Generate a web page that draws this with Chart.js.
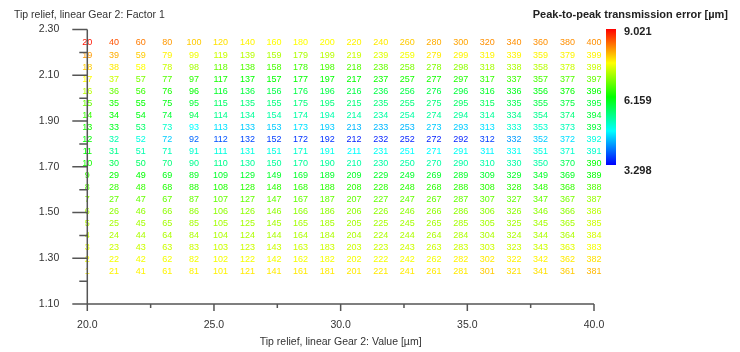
<!DOCTYPE html>
<html>
<head>
<meta charset="utf-8">
<script src="https://cdn.jsdelivr.net/npm/chart.js@4.4.1/dist/chart.umd.min.js"></script>
<style>
  html, body { margin: 0; padding: 0; background: #fff; }
</style>
</head>
<body>
<canvas id="chart" width="740" height="352"></canvas>
<script>
// tip relief value (x) of each column and factor (y) of each row
let xValues = [20.00, 21.05, 22.11, 23.16, 24.21, 25.26, 26.32, 27.37, 28.42, 29.47,
               30.53, 31.58, 32.63, 33.68, 34.74, 35.79, 36.84, 37.89, 38.95, 40.00]
let yValues = [2.3000, 2.2474, 2.1947, 2.1421, 2.0895, 2.0368, 1.9842, 1.9316, 1.8789, 1.8263,
               1.7737, 1.7211, 1.6684, 1.6158, 1.5632, 1.5105, 1.4579, 1.4053, 1.3526, 1.3000]

// peak-to-peak transmission error [µm], one row per y value (top row first)
let errorRows = [
  [8.91, 8.56, 8.33, 8.16, 7.88, 7.76, 7.65, 7.59, 7.59, 7.59, 7.65, 7.70, 7.88, 8.05, 8.10, 8.22, 8.22, 8.22, 8.22, 8.22],
  [8.16, 8.05, 7.88, 7.65, 7.53, 7.30, 7.19, 7.13, 7.13, 7.19, 7.30, 7.42, 7.53, 7.70, 7.65, 7.65, 7.65, 7.65, 7.65, 7.65],
  [7.88, 7.70, 7.59, 7.30, 7.08, 6.73, 6.62, 6.56, 6.50, 6.56, 6.62, 6.73, 6.85, 6.90, 6.96, 7.08, 7.13, 7.19, 7.30, 7.30],
  [7.59, 7.30, 6.85, 6.62, 6.39, 6.27, 6.16, 6.16, 6.16, 6.16, 6.16, 6.22, 6.27, 6.27, 6.33, 6.45, 6.50, 6.56, 6.62, 6.73],
  [7.19, 6.73, 6.45, 6.27, 6.16, 5.93, 5.82, 5.76, 5.76, 5.76, 5.76, 5.76, 5.76, 5.76, 5.82, 5.93, 5.99, 6.05, 6.16, 6.16],
  [6.73, 6.27, 6.16, 6.05, 5.87, 5.59, 5.47, 5.47, 5.47, 5.47, 5.47, 5.47, 5.47, 5.47, 5.59, 5.64, 5.70, 5.76, 5.82, 5.87],
  [6.45, 6.16, 6.05, 5.87, 5.70, 5.36, 5.30, 5.24, 5.24, 5.19, 5.24, 5.24, 5.24, 5.30, 5.30, 5.30, 5.36, 5.36, 5.47, 5.87],
  [6.27, 5.99, 5.59, 5.01, 4.73, 4.56, 4.44, 4.44, 4.56, 4.44, 4.33, 4.33, 4.33, 4.44, 4.44, 4.56, 5.01, 5.01, 5.13, 5.87],
  [6.16, 5.19, 4.90, 4.44, 3.87, 3.76, 3.70, 3.64, 3.58, 3.58, 3.47, 3.47, 3.47, 3.47, 3.47, 3.64, 4.16, 4.44, 4.56, 4.90],
  [6.16, 5.36, 5.19, 5.13, 5.01, 4.90, 4.90, 4.90, 5.01, 4.84, 4.73, 4.79, 4.73, 4.73, 4.79, 4.67, 4.79, 4.90, 5.01, 5.01],
  [6.27, 5.70, 5.59, 5.47, 5.36, 5.36, 5.30, 5.30, 5.30, 5.30, 5.24, 5.24, 5.24, 5.24, 5.24, 5.24, 5.24, 5.24, 5.70, 6.16],
  [6.45, 6.16, 6.16, 6.05, 5.99, 5.93, 5.93, 5.93, 5.93, 5.93, 5.93, 5.93, 5.93, 5.93, 5.93, 5.93, 5.93, 5.93, 5.99, 6.16],
  [6.62, 6.45, 6.45, 6.33, 6.33, 6.33, 6.39, 6.39, 6.39, 6.39, 6.39, 6.39, 6.39, 6.39, 6.39, 6.39, 6.39, 6.39, 6.45, 6.62],
  [6.90, 6.73, 6.73, 6.73, 6.73, 6.73, 6.73, 6.73, 6.73, 6.73, 6.73, 6.73, 6.73, 6.73, 6.73, 6.73, 6.73, 6.73, 6.85, 7.02],
  [7.08, 6.96, 6.96, 6.96, 6.96, 6.96, 6.96, 6.96, 6.96, 6.96, 6.96, 6.96, 6.96, 6.96, 6.96, 6.96, 6.96, 6.96, 6.96, 7.19],
  [7.19, 7.08, 7.08, 7.08, 7.08, 7.08, 7.08, 7.08, 7.08, 7.08, 7.08, 7.08, 7.08, 7.08, 7.08, 7.08, 7.08, 7.08, 7.08, 7.30],
  [7.25, 7.13, 7.13, 7.13, 7.13, 7.13, 7.13, 7.13, 7.13, 7.13, 7.13, 7.13, 7.13, 7.13, 7.13, 7.13, 7.13, 7.13, 7.13, 7.36],
  [7.42, 7.30, 7.30, 7.30, 7.30, 7.30, 7.30, 7.30, 7.30, 7.30, 7.30, 7.30, 7.30, 7.30, 7.30, 7.30, 7.30, 7.30, 7.42, 7.53],
  [7.53, 7.53, 7.53, 7.53, 7.53, 7.53, 7.53, 7.53, 7.53, 7.53, 7.53, 7.53, 7.53, 7.53, 7.65, 7.70, 7.65, 7.65, 7.70, 7.76],
  [7.65, 7.65, 7.65, 7.65, 7.65, 7.65, 7.70, 7.70, 7.70, 7.70, 7.70, 7.70, 7.70, 7.70, 7.70, 7.88, 7.76, 7.76, 7.88, 7.99],
]

// axis ticks and colour bar range
let xTicks = [20, 25, 30, 35, 40]
let yTicks = [1.10, 1.30, 1.50, 1.70, 1.90, 2.10, 2.30]
let errorMin = 3.298
let errorMid = 6.159
let errorMax = 9.021

let axisColor = '#555'
let textColor = '#333'

// blue - cyan - green - yellow - red, like the colour bar
function errorColor(v) {
    let t = Math.min(1, Math.max(0, (v - errorMin) / (errorMax - errorMin)))
    let r, g, b
    if (t < 0.25) { r = 0; g = 255 * t / 0.25; b = 255 }
    else if (t < 0.5) { r = 0; g = 255; b = 255 * (1 - (t - 0.25) / 0.25) }
    else if (t < 0.75) { r = 255 * (t - 0.5) / 0.25; g = 255; b = 0 }
    else { r = 255; g = 255 * (1 - (t - 0.75) / 0.25); b = 0 }
    return `rgb(${Math.round(r)},${Math.round(g)},${Math.round(b)})`
}

// build one point per cell, the label is the design point number
let points = []
yValues.forEach(function(y, r) {
    xValues.forEach(function(x, c) {
        points.push({x: x, y: y, v: errorRows[r][c], id: 20 * c + 20 - r})
    })
})

// write the point numbers in their colour
let cellLabels = {
    id: 'cellLabels',
    afterDatasetsDraw(chart) {
        let ctx = chart.ctx
        let meta = chart.getDatasetMeta(0)
        ctx.save()
        ctx.font = '9px "Liberation Sans"'
        ctx.textAlign = 'center'
        ctx.textBaseline = 'middle'
        meta.data.forEach(function(el, i) {
            let p = chart.data.datasets[0].data[i]
            ctx.fillStyle = errorColor(p.v)
            ctx.fillText(String(p.id), el.x, el.y + 13.5)
        })
        ctx.restore()
    }
}

// axis lines with major + minor ticks, titles and the colour bar
let decorations = {
    id: 'decorations',
    afterDraw(chart) {
        let ctx = chart.ctx
        let xs = chart.scales.x, ys = chart.scales.y
        let left = xs.getPixelForValue(20), right = xs.getPixelForValue(40)
        let top = ys.getPixelForValue(2.3), bottom = ys.getPixelForValue(1.1)
        ctx.save()
        ctx.strokeStyle = axisColor
        ctx.lineWidth = 1.5
        ctx.beginPath()
        ctx.moveTo(left, top)
        ctx.lineTo(left, bottom)
        ctx.lineTo(right, bottom)
        for (let v = 1.1; v <= 2.301; v += 0.1) {
            let y = ys.getPixelForValue(v)
            let major = Math.round(v * 10) % 2 === 1
            ctx.moveTo(left - (major ? 15 : 8), y)
            ctx.lineTo(left, y)
        }
        for (let v = 20; v <= 40; v += 2.5) {
            let x = xs.getPixelForValue(v)
            let major = v % 5 === 0
            ctx.moveTo(x, bottom)
            ctx.lineTo(x, bottom + (major ? 7 : 4))
        }
        ctx.stroke()

        ctx.fillStyle = textColor
        ctx.font = '10.5px "Liberation Sans"'
        ctx.textBaseline = 'middle'
        ctx.textAlign = 'left'
        ctx.fillText('Tip relief, linear Gear 2: Factor 1', 14, 15)
        ctx.textAlign = 'center'
        ctx.fillText('Tip relief, linear Gear 2: Value [µm]', (left + right) / 2, 342)

        // colour bar
        let barX = 606, barW = 10, barTop = 29, barBottom = 165
        let grad = ctx.createLinearGradient(0, barBottom, 0, barTop)
        for (let k = 0; k <= 20; k++) {
            grad.addColorStop(k / 20, errorColor(errorMin + (errorMax - errorMin) * k / 20))
        }
        ctx.fillStyle = grad
        ctx.fillRect(barX, barTop, barW, barBottom - barTop)

        ctx.fillStyle = '#222'
        ctx.font = 'bold 11px "Liberation Sans"'
        ctx.textAlign = 'right'
        ctx.fillText('Peak-to-peak transmission error [µm]', 728, 15)
        ctx.textAlign = 'left'
        ctx.fillText(errorMax.toFixed(3), 624, 32)
        ctx.fillText(errorMid.toFixed(3), 624, 101)
        ctx.fillText(errorMin.toFixed(3), 624, 171)
        ctx.restore()
    }
}

let ctx = document.querySelector('#chart').getContext('2d')

let chart = new Chart(ctx, {
    type: 'scatter',
    data: {
        datasets: [{
            data: points,
            pointRadius: 0,
            pointHoverRadius: 0,
        }]
    },
    options: {
        responsive: false,
        animation: false,
        events: [],
        layout: {padding: {top: 29.5, right: 146, left: 0, bottom: 0}},
        plugins: {legend: {display: false}, tooltip: {enabled: false}},
        scales: {
            x: {
                type: 'linear', min: 20, max: 40,
                grid: {display: false, drawTicks: false}, border: {display: false},
                afterBuildTicks: s => { s.ticks = xTicks.map(v => ({value: v})) },
                afterFit: s => { s.height = 48; s.paddingLeft = 0; s.paddingRight = 0 },
                ticks: {
                    padding: 15, color: textColor, maxRotation: 0,
                    font: {family: 'Liberation Sans', size: 10.5},
                    callback: v => v.toFixed(1)
                }
            },
            y: {
                type: 'linear', min: 1.1, max: 2.3,
                grid: {display: false, drawTicks: false}, border: {display: false},
                afterBuildTicks: s => { s.ticks = yTicks.map(v => ({value: v})) },
                afterFit: s => { s.width = 87.3; s.paddingTop = 0; s.paddingBottom = 0 },
                ticks: {
                    padding: 28, color: textColor,
                    font: {family: 'Liberation Sans', size: 10.5},
                    callback: v => v.toFixed(2)
                }
            }
        }
    },
    plugins: [cellLabels, decorations]
})
</script>
</body>
</html>
